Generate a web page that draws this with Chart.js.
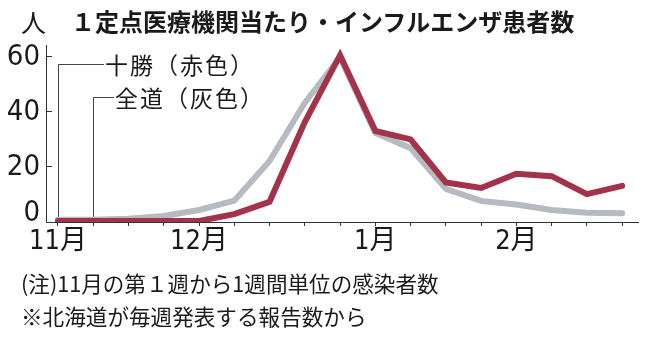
<!DOCTYPE html>
<html lang="ja">
<head>
<meta charset="utf-8">
<script src="https://cdn.jsdelivr.net/npm/chart.js@4/dist/chart.umd.min.js"></script>
<style>
  body { margin: 0; background: #fff; }
  #wrap { position: relative; width: 650px; height: 338px; overflow: hidden; font-family: 'Noto Sans CJK JP', sans-serif; color: #1a1a1a; }
  #chart { position: absolute; left: 0; top: 0; }
  .unit { position: absolute; left: 21px; top: 5px; font-size: 25px; line-height: 32px; }
  .title { position: absolute; left: 71px; top: 5px; font-size: 24px; font-weight: bold; line-height: 32px; white-space: nowrap; }
  .note { position: absolute; left: 21px; font-size: 21.6px; line-height: 28px; white-space: nowrap; }
</style>
</head>
<body>
<div id="wrap">
  <canvas id="chart" width="650" height="338"></canvas>
  <div class="unit">人</div>
  <div class="title">１定点医療機関当たり・インフルエンザ患者数</div>
  <div class="note" style="top:269px">(注)11月の第１週から1週間単位の感染者数</div>
  <div class="note" style="top:302px">※北海道が毎週発表する報告数から</div>
</div>
<script>
// weekly patients per sentinel clinic, first week of Nov onward
const tokachi = [0, 0, 0, 0, 0, 2.5, 7, 36, 60.3, 32.8, 29.7, 14, 12, 17.2, 16.3, 9.8, 12.8];
const zendo = [0.5, 0.5, 0.8, 1.8, 4, 7.4, 21.8, 43, 59.5, 32, 26.5, 11.7, 7.3, 6, 4, 3, 2.8];

const monthLabels = ['11月', '12月', '1月', '2月'];
const monthWeek = [0, 4, 9, 13]; // week index where each month label sits
const yTicks = [0, 20, 40, 60];

const seriesNames = ['十勝（赤色）', '全道（灰色）'];
const RED = '#a3334a';
const GRAY = '#b6bbc2';
const NARROW = "'Liberation Sans Narrow', 'DejaVu Sans Condensed', 'Noto Sans CJK JP', sans-serif";

const toPoints = (arr) => arr.map((v, i) => ({ x: i, y: v }));

// leader-line labels plus the y axis (inward ticks, lifted zero label)
const annotate = {
  id: 'annotate',
  beforeDatasetsDraw(chart) {
    const { ctx, scales: { x, y } } = chart;
    ctx.save();
    ctx.strokeStyle = '#444';
    ctx.lineWidth = 1;
    const legs = [
      { i: 0, v: tokachi[0], ly: 64, tx: 104 },
      { i: 1, v: zendo[1], ly: 97, tx: 114 },
    ];
    ctx.font = "23px 'Noto Sans CJK JP', sans-serif";
    ctx.letterSpacing = '2px';
    ctx.fillStyle = '#1a1a1a';
    ctx.textBaseline = 'middle';
    legs.forEach((l, k) => {
      const px = Math.round(x.getPixelForValue(l.i)) + 0.5;
      const ly = l.ly + 0.5;
      ctx.beginPath();
      ctx.moveTo(px, y.getPixelForValue(l.v));
      ctx.lineTo(px, ly);
      ctx.lineTo(l.tx, ly);
      ctx.stroke();
      ctx.fillText(seriesNames[k], l.tx + 1, l.ly + 1);
    });
    ctx.restore();
  },
  afterDraw(chart) {
    const { ctx, scales: { y }, chartArea } = chart;
    ctx.save();
    ctx.strokeStyle = '#333';
    ctx.lineWidth = 1;
    ctx.font = '29px ' + NARROW;
    ctx.fillStyle = '#1a1a1a';
    ctx.textAlign = 'right';
    ctx.textBaseline = 'middle';
    yTicks.forEach((v) => {
      const py = Math.round(y.getPixelForValue(v)) + 0.5;
      if (v > 0) {
        ctx.beginPath();
        ctx.moveTo(chartArea.left, py);
        ctx.lineTo(chartArea.left + 6, py);
        ctx.stroke();
      }
      ctx.fillText(String(v), 40, v === 0 ? py - 8 : py + 1);
    });
    ctx.restore();
  },
};

new Chart(document.getElementById('chart'), {
  type: 'line',
  data: {
    datasets: [
      {
        label: seriesNames[0],
        data: toPoints(tokachi),
        borderColor: RED,
        borderWidth: 6,
        borderCapStyle: 'round',
        borderJoinStyle: 'miter',
        pointRadius: 0,
        tension: 0,
      },
      {
        label: seriesNames[1],
        data: toPoints(zendo),
        borderColor: GRAY,
        borderWidth: 6,
        borderCapStyle: 'round',
        borderJoinStyle: 'round',
        pointRadius: 0,
        tension: 0,
      },
    ],
  },
  options: {
    responsive: false,
    devicePixelRatio: 1,
    animation: false,
    layout: { padding: { top: 45, right: 12, left: 0, bottom: 0 } },
    scales: {
      x: {
        type: 'linear',
        min: -0.34,
        max: 16.45,
        afterBuildTicks: (scale) => {
          scale.ticks = tokachi.map((_, i) => ({ value: i }));
        },
        afterFit: (scale) => { scale.height = 116; },
        ticks: {
          autoSkip: false,
          maxRotation: 0,
          minRotation: 0,
          padding: 0,
          color: '#1a1a1a',
          font: { family: NARROW, size: 27 },
          callback: (value) => {
            const k = monthWeek.indexOf(value);
            return k >= 0 ? monthLabels[k] : '';
          },
        },
        grid: { drawOnChartArea: false, drawTicks: true, tickLength: 4, color: '#333' },
        border: { display: true, color: '#333', width: 1 },
      },
      y: {
        min: -0.36,
        max: 64,
        afterBuildTicks: (scale) => {
          scale.ticks = yTicks.map((v) => ({ value: v }));
        },
        afterFit: (scale) => { scale.width = 46; },
        ticks: { display: false },
        grid: { display: false },
        border: { display: true, color: '#333', width: 1 },
      },
    },
    plugins: {
      legend: { display: false },
      tooltip: { enabled: false },
    },
  },
  plugins: [annotate],
});
</script>
</body>
</html>
